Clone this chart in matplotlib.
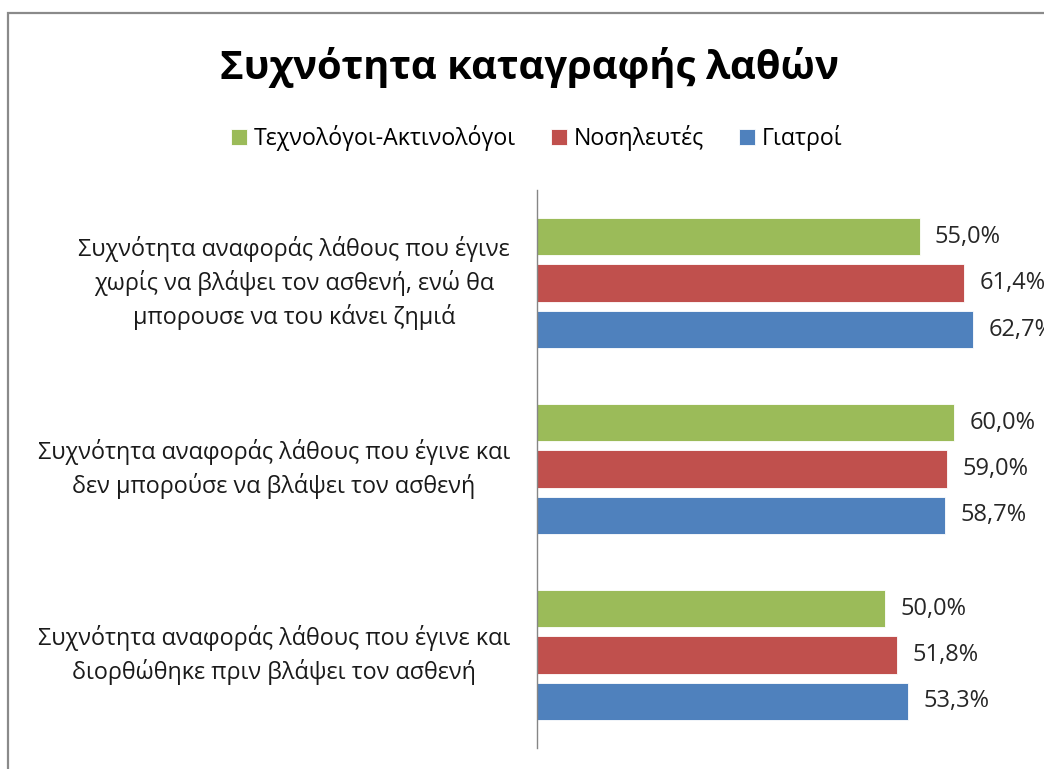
import numpy as np
import matplotlib
matplotlib.use("Agg")
import matplotlib.pyplot as plt
from matplotlib.patches import Rectangle

plt.rcParams['font.family'] = ['Open Sans', 'DejaVu Sans']

title = "Συχνότητα καταγραφής λαθών"
categories = [
    "Συχνότητα αναφοράς λάθους που έγινε\nχωρίς να βλάψει τον ασθενή, ενώ θα\nμπορουσε να του κάνει ζημιά",
    "Συχνότητα αναφοράς λάθους που έγινε και\nδεν μπορούσε να βλάψει τον ασθενή",
    "Συχνότητα αναφοράς λάθους που έγινε και\nδιορθώθηκε πριν βλάψει τον ασθενή",
]
series_names = ["Τεχνολόγοι-Ακτινολόγοι", "Νοσηλευτές", "Γιατροί"]
technologists = [55.0, 60.0, 50.0]
nurses = [61.4, 59.0, 51.8]
doctors = [62.7, 58.7, 53.3]
colors = ["#9BBB59", "#C0504D", "#4F81BD"]

W, H = 1044, 769
fig = plt.figure(figsize=(W / 100, H / 100), dpi=100)

# plot area: value axis at x=537 px, 0..70 % spans ~487 px (runs off the right edge)
ax = fig.add_axes([537 / W, (H - 748) / H, 487 / W, 558 / H])

y = np.arange(len(categories))
bar_h = 0.2
step = 0.25
handles = []
for k, (vals, name, col) in enumerate(zip([technologists, nurses, doctors], series_names, colors)):
    pos = y + (k - 1) * step
    b = ax.barh(pos, vals, height=bar_h, color=col, edgecolor="white", linewidth=0.6, label=name)
    handles.append(b)
    for p, v in zip(pos, vals):
        ax.text(v + 2.2, p, f"{v:.1f}%".replace(".", ","), va="center", ha="left",
                fontsize=17, color="#262626", clip_on=False)

ax.set_xlim(0, 70)
ax.set_ylim(len(categories) - 0.5, -0.5)
ax.set_xticks([])
ax.set_yticks([])
for s in ["top", "right", "bottom"]:
    ax.spines[s].set_visible(False)
ax.spines["left"].set_color("#868686")
ax.spines["left"].set_linewidth(1.0)

# category labels, centred lines, block right-aligned next to the axis
for yi, lab in zip(y, categories):
    ax.text(-27 / 6.95, yi, lab, ha="right", va="center", multialignment="center",
            fontsize=16.8, color="#1a1a1a", linespacing=1.42, clip_on=False)

fig.text(529 / W, 1 - 68 / H, title, ha="center", va="center",
         fontsize=28.8, fontweight="bold", color="black")

fig.legend(handles=handles, labels=series_names, loc="center left",
           bbox_to_anchor=(231 / W, 1 - 138 / H), ncol=3, frameon=False,
           fontsize=16.7, handlelength=0.69, handleheight=0.69, handletextpad=0.3,
           columnspacing=1.5, borderaxespad=0, borderpad=0)

# chart frame
fig.add_artist(Rectangle((8 / W, -0.2), 1.5, 1.2 - 13 / H, transform=fig.transFigure,
                         fill=False, edgecolor="#8a8a8a", linewidth=1.6))

fig.savefig("out.png", dpi=100)
